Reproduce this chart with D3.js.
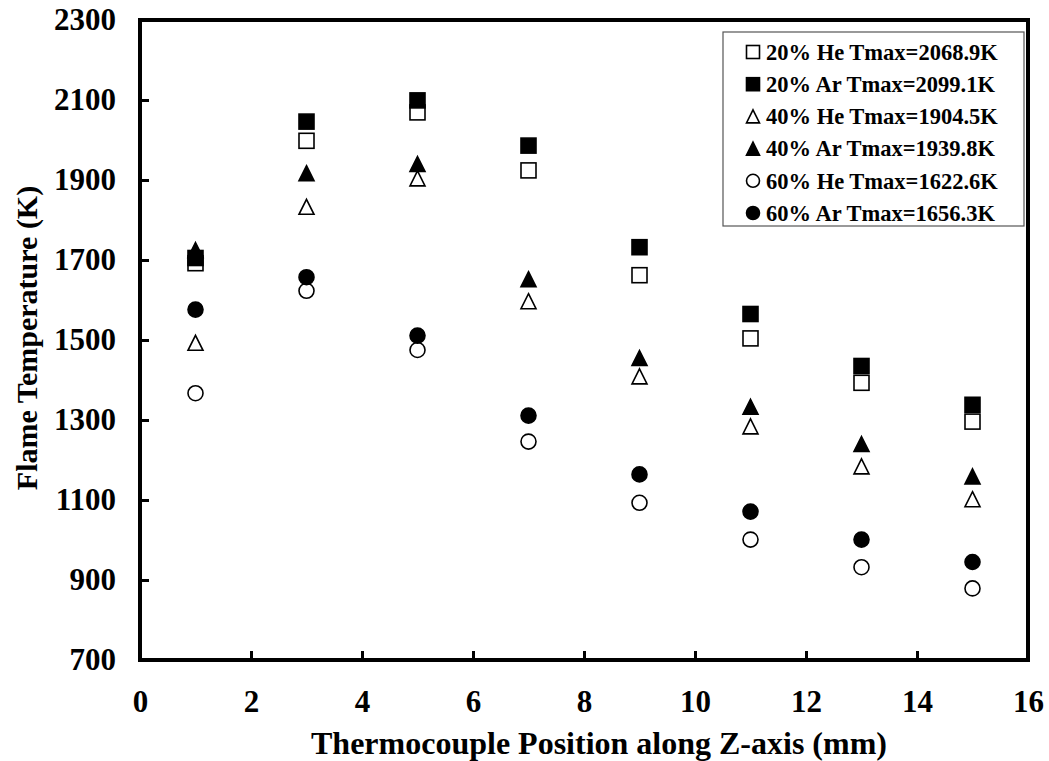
<!DOCTYPE html>
<html>
<head>
<meta charset="utf-8">
<script src="https://cdn.jsdelivr.net/npm/d3@7"></script>
<style>
  body { margin: 0; background: #fff; }
  text { font-family: "Liberation Serif", "Times New Roman", serif; font-weight: bold; fill: #000; }
</style>
</head>
<body>
<div id="chart"></div>
<script>
// thermocouple positions (mm)
const positions = [1, 3, 5, 7, 9, 11, 13, 15];

// flame temperatures (K)
const he20 = [1692, 1998, 2069, 1924, 1662, 1504, 1393, 1296];
const ar20 = [1705, 2046, 2099, 1986, 1732, 1565, 1435, 1338];
const he40 = [1493, 1833, 1904, 1597, 1409, 1284, 1184, 1102];
const ar40 = [1725, 1917, 1940, 1652, 1455, 1333, 1240, 1159];
const he60 = [1367, 1623, 1475, 1246, 1093, 1001, 932, 879];
const ar60 = [1576, 1657, 1511, 1311, 1164, 1071, 1001, 945];

const seriesNames = [
    "20% He Tmax=2068.9K",
    "20% Ar Tmax=2099.1K",
    "40% He Tmax=1904.5K",
    "40% Ar Tmax=1939.8K",
    "60% He Tmax=1622.6K",
    "60% Ar Tmax=1656.3K"
];

const xTicks = [0, 2, 4, 6, 8, 10, 12, 14, 16];
const yTicks = [700, 900, 1100, 1300, 1500, 1700, 1900, 2100, 2300];

const series = [
    { name: seriesNames[0], values: he20, shape: "square", filled: false },
    { name: seriesNames[1], values: ar20, shape: "square", filled: true },
    { name: seriesNames[2], values: he40, shape: "triangle", filled: false },
    { name: seriesNames[3], values: ar40, shape: "triangle", filled: true },
    { name: seriesNames[4], values: he60, shape: "circle", filled: false },
    { name: seriesNames[5], values: ar60, shape: "circle", filled: true }
];

const margin = { top: 20, right: 21, bottom: 101, left: 140 };
const totalW = 1049, totalH = 761;
const width = totalW - margin.left - margin.right;
const height = totalH - margin.top - margin.bottom;

const svg = d3.select("#chart").append("svg")
    .attr("width", totalW)
    .attr("height", totalH);

const g = svg.append("g")
    .attr("transform", `translate(${margin.left},${margin.top})`);

const x = d3.scaleLinear().domain([0, 16]).range([0, width]);
const y = d3.scaleLinear().domain([700, 2300]).range([height, 0]);

// marker drawing helper
function drawMarker(sel, shape, filled, size) {
    const h = size / 2;
    let m;
    if (shape === "square") {
        m = sel.append("rect").attr("x", -h).attr("y", -h).attr("width", size).attr("height", size);
    } else if (shape === "circle") {
        m = sel.append("circle").attr("r", h);
    } else {
        m = sel.append("path").attr("d", `M0,${-h}L${h},${h}L${-h},${h}Z`);
    }
    m.attr("fill", filled ? "#000" : "#fff")
        .attr("stroke", "#000")
        .attr("stroke-width", 1.6);
}

// axes (ticks inside)
const xAxis = d3.axisBottom(x).tickValues(xTicks).tickSize(-9).tickPadding(30).tickFormat(d3.format("d"));
const yAxis = d3.axisLeft(y).tickValues(yTicks).tickSize(-9).tickPadding(24).tickFormat(d3.format("d"));

g.append("g")
    .attr("class", "x axis")
    .attr("transform", `translate(0,${height})`)
    .call(xAxis);

g.append("g")
    .attr("class", "y axis")
    .call(yAxis);

g.selectAll(".axis path").remove();
g.selectAll(".axis line").attr("stroke", "#000").attr("stroke-width", 3);
g.selectAll(".axis text")
    .style("font-family", '"Liberation Serif", serif')
    .style("font-weight", "bold")
    .style("font-size", "31px");
g.selectAll(".x.axis text").attr("dy", "0.71em");

// plot frame
g.append("rect")
    .attr("width", width)
    .attr("height", height)
    .attr("fill", "none")
    .attr("stroke", "#000")
    .attr("stroke-width", 4);

// data points
series.forEach(s => {
    const pts = g.append("g").selectAll("g")
        .data(s.values.map((v, i) => ({ x: positions[i], y: v })))
        .enter().append("g")
        .attr("transform", d => `translate(${x(d.x)},${y(d.y)})`);
    pts.each(function () { drawMarker(d3.select(this), s.shape, s.filled, 15); });
});

// legend
const legend = svg.append("g").attr("transform", "translate(723,32)");
legend.append("rect")
    .attr("width", 301)
    .attr("height", 194)
    .attr("fill", "#fff")
    .attr("stroke", "#555")
    .attr("stroke-width", 1.2);

const rows = legend.selectAll(".row")
    .data(series)
    .enter().append("g")
    .attr("class", "row")
    .attr("transform", (d, i) => `translate(30,${20 + i * 32.2})`);

rows.each(function (d) { drawMarker(d3.select(this), d.shape, d.filled, 13); });

rows.append("text")
    .attr("x", 13)
    .attr("dy", "0.35em")
    .style("font-size", "22.5px")
    .text(d => d.name);

// axis titles
svg.append("text")
    .attr("x", margin.left + width / 2 + 15)
    .attr("y", 754)
    .attr("text-anchor", "middle")
    .style("font-size", "32px")
    .text("Thermocouple Position along Z-axis (mm)");

svg.append("text")
    .attr("transform", `translate(37,${margin.top + height / 2 - 2}) rotate(-90)`)
    .attr("text-anchor", "middle")
    .style("font-size", "30px")
    .text("Flame Temperature (K)");
</script>
</body>
</html>
